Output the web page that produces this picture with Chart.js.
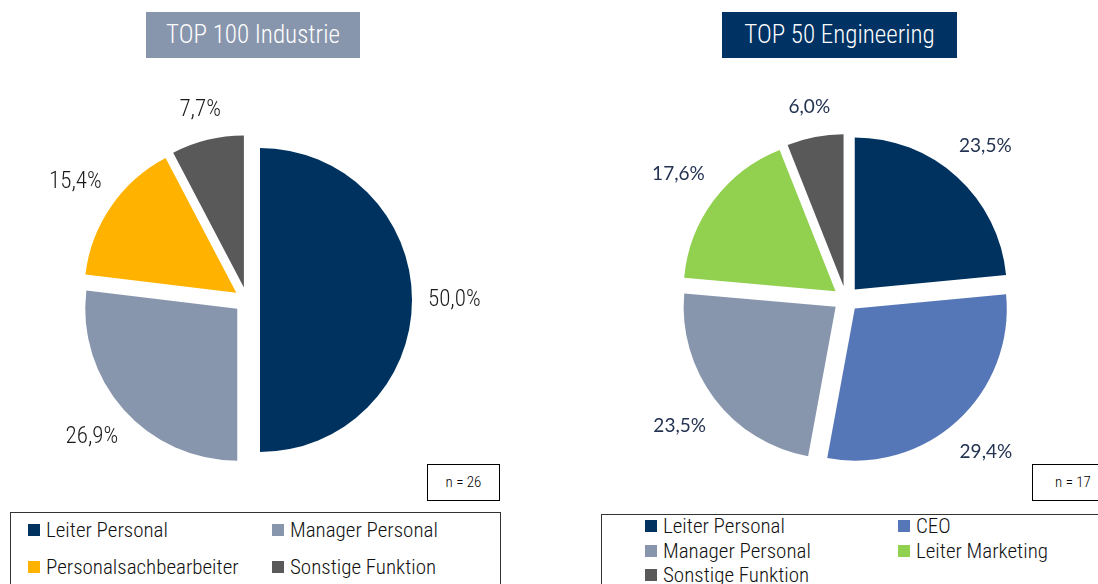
<!DOCTYPE html>
<html>
<head>
<meta charset="utf-8">
<script src="https://cdn.jsdelivr.net/npm/chart.js@4.4.0/dist/chart.umd.min.js"></script>
<style>
  body { margin: 0; width: 1098px; height: 584px; overflow: hidden; background: #fff;
         font-family: 'Roboto Condensed', 'Liberation Sans Narrow', sans-serif; font-weight: 300; }
  .cv { position: absolute; }
  .title { position: absolute; top: 12px; height: 46px; line-height: 46px; color: #fff;
           font-size: 25px; text-align: center; }
  .nbox { position: absolute; top: 464px; height: 35px; line-height: 35px; border: 1px solid #000;
          font-size: 15px; text-align: center; color: #000; background: #fff; }
  .legend { position: absolute; border: 1.5px solid #333; background: #fff; color: #111; }
  .legend .it { position: absolute; font-size: 21px; white-space: nowrap; }
  .legend .sw { display: inline-block; width: 12px; height: 12px; margin-right: 6px; vertical-align: 1px; }
</style>
</head>
<body>
<div class="cv" style="left:-3px;top:50px;width:500px;height:500px"><canvas id="c1"></canvas></div>
<div class="cv" style="left:596px;top:49px;width:500px;height:500px"><canvas id="c2"></canvas></div>

<div class="title" style="left:146px;width:214px;background:#8896AD">TOP 100 Industrie</div>
<div class="title" style="left:722px;width:235px;background:#003263">TOP 50 Engineering</div>

<div class="nbox" style="left:427px;width:71px">n = 26</div>
<div class="nbox" style="left:1032px;width:80px">n = 17</div>

<div class="legend" id="leg1" style="left:10px;top:512px;width:489px;height:90px"></div>
<div class="legend" id="leg2" style="left:601px;top:514px;width:510px;height:90px"></div>

<script>
// TOP 100 Industrie
const industrieLabels = ['Leiter Personal', 'Manager Personal', 'Personalsachbearbeiter', 'Sonstige Funktion'];
const industrieValues = [50.0, 26.9, 15.4, 7.7];
const industrieColors = ['#00325F', '#8896AD', '#FFB300', '#595959'];
const industrieN = 26;

// TOP 50 Engineering
const engineeringLabels = ['Leiter Personal', 'CEO', 'Manager Personal', 'Leiter Marketing', 'Sonstige Funktion'];
const engineeringValues = [23.5, 29.4, 23.5, 17.6, 6.0];
const engineeringColors = ['#00325F', '#5677B7', '#8896AD', '#92D050', '#595959'];
const engineeringN = 17;

const SLICE_GAP = 13;   // Verschiebung der Segmente nach außen in px
const PIE_RADIUS = 152;

// Segmente selbst verschieben (v4-offset vergrößert manche Segmente)
const explodeSlices = {
    id: 'explodeSlices',
    beforeDatasetDraw(chart, args) {
        const ctx = chart.ctx;
        args.meta.data.forEach(arc => {
            const p = arc.getProps(['startAngle', 'endAngle'], true);
            const mid = (p.startAngle + p.endAngle) / 2;
            ctx.save();
            ctx.translate(Math.cos(mid) * SLICE_GAP, Math.sin(mid) * SLICE_GAP);
            arc.draw(ctx, chart.chartArea);
            ctx.restore();
        });
        return false;
    }
};

// Prozentlabels außerhalb der Segmente (wie "Außerhalb Ende" in Excel)
const outsideLabels = {
    id: 'outsideLabels',
    afterDatasetsDraw(chart, args, opts) {
        const ctx = chart.ctx;
        const meta = chart.getDatasetMeta(0);
        const data = chart.data.datasets[0].data;
        ctx.save();
        ctx.font = opts.font;
        ctx.fillStyle = opts.color;
        ctx.textAlign = 'center';
        ctx.textBaseline = 'middle';
        meta.data.forEach((arc, i) => {
            const p = arc.getProps(['x', 'y', 'startAngle', 'endAngle', 'outerRadius'], true);
            const mid = (p.startAngle + p.endAngle) / 2;
            const txt = data[i].toFixed(1).replace('.', ',') + '%';
            const w = ctx.measureText(txt).width;
            const c = Math.cos(mid), s = Math.sin(mid);
            const ext = Math.abs(c) * w / 2 + Math.abs(s) * opts.height / 2;
            const d = SLICE_GAP + p.outerRadius + opts.gap + ext;
            ctx.fillText(txt, p.x + c * d, p.y + s * d);
        });
        ctx.restore();
    }
};

function makePie(id, labels, values, colors, labelOpts) {
    return new Chart(document.getElementById(id), {
        type: 'pie',
        data: {
            labels: labels,
            datasets: [{
                data: values,
                backgroundColor: colors,
                borderWidth: 0
            }]
        },
        options: {
            responsive: true,
            maintainAspectRatio: false,
            animation: false,
            radius: PIE_RADIUS,
            layout: { padding: 0 },
            plugins: {
                legend: { display: false },
                tooltip: { enabled: false },
                outsideLabels: labelOpts
            }
        },
        plugins: [explodeSlices, outsideLabels]
    });
}

makePie('c1', industrieLabels, industrieValues, industrieColors, {
    gap: 16, height: 20, color: '#1a1a1a',
    font: "300 23px 'Roboto Condensed', 'Liberation Sans Narrow', sans-serif"
});
makePie('c2', engineeringLabels, engineeringValues, engineeringColors, {
    gap: 17, height: 20, color: '#233352',
    font: "19px Lato, 'Open Sans', sans-serif"
});

function buildLegend(id, labels, colors, pos) {
    const box = document.getElementById(id);
    labels.forEach((lab, i) => {
        const d = document.createElement('div');
        d.className = 'it';
        d.style.left = pos[i][0] + 'px';
        d.style.top = pos[i][1] + 'px';
        d.innerHTML = '<span class="sw" style="background:' + colors[i] + '"></span>' + lab;
        box.appendChild(d);
    });
}

buildLegend('leg1', industrieLabels, industrieColors, [[17, 5], [261, 5], [17, 42], [261, 42]]);
buildLegend('leg2', engineeringLabels, engineeringColors, [[43, -1], [296, -1], [43, 24], [296, 24], [43, 48]]);
</script>
</body>
</html>
